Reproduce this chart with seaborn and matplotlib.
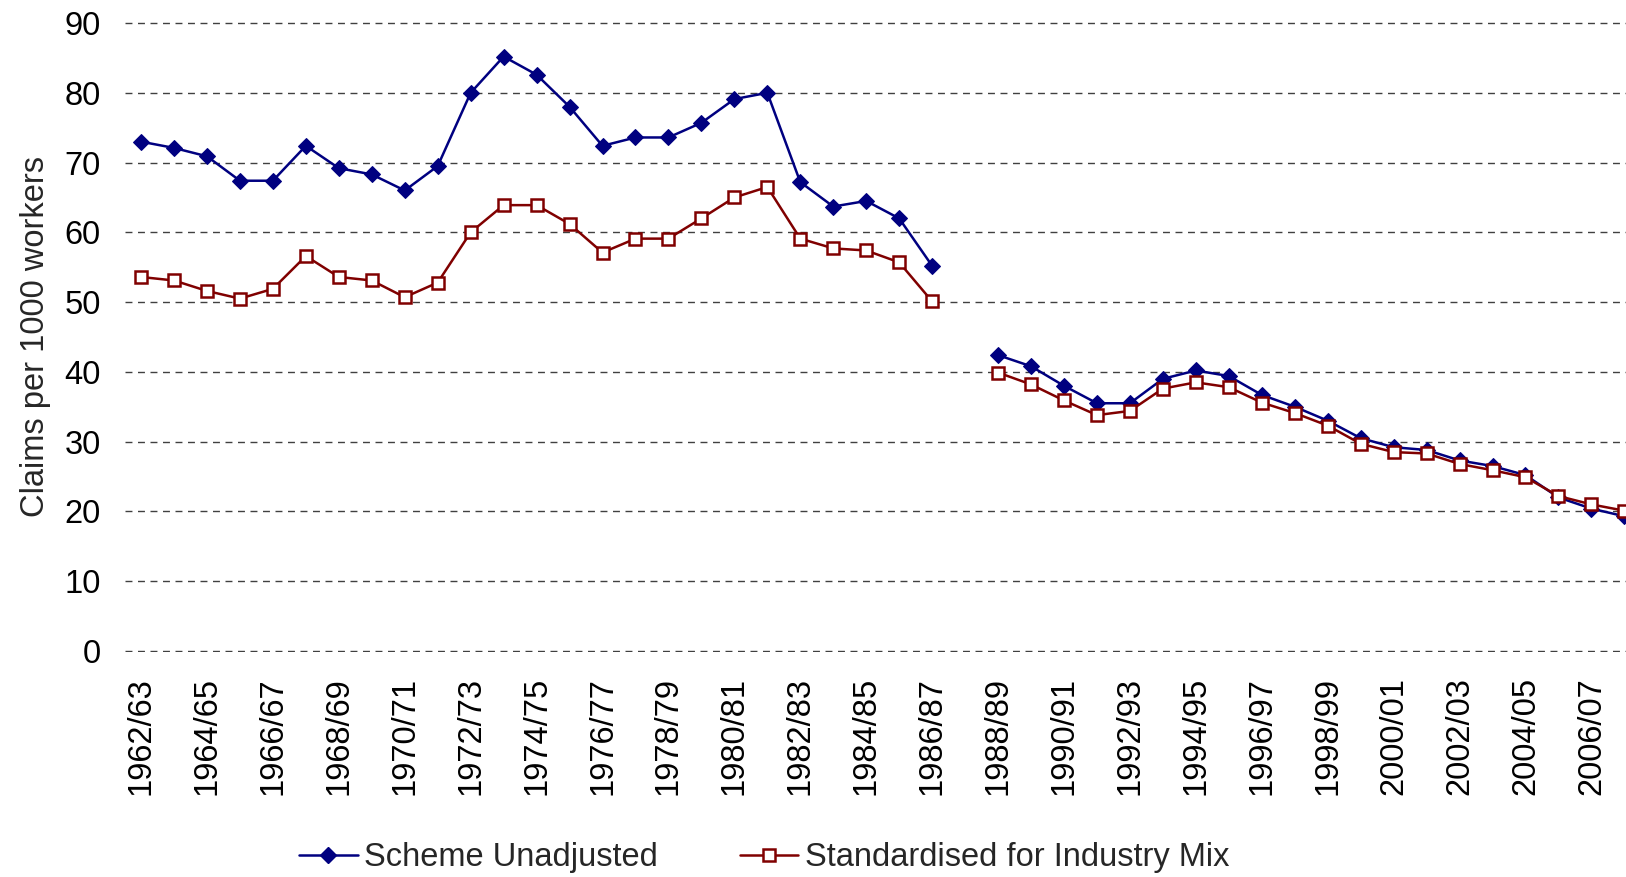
import numpy as np
import pandas as pd
import matplotlib
matplotlib.use("Agg")
import matplotlib.pyplot as plt
import seaborn as sns
from matplotlib.lines import Line2D

# financial years 1962/63 .. 2007/08
periods = [f"{y}/{str(y + 1)[-2:]}" for y in range(1962, 2008)]

# 1987/88 has no value (break in series)
unadjusted = [73.0, 72.1, 70.9, 67.4, 67.4, 72.4, 69.2, 68.3, 66.0, 69.5,
              80.0, 85.2, 82.6, 78.0, 72.4, 73.6, 73.6, 75.7, 79.1, 80.0,
              67.2, 63.7, 64.5, 62.0, 55.2, None,
              42.4, 40.8, 38.0, 35.5, 35.5, 39.0, 40.2, 39.4, 36.7, 35.0,
              33.0, 30.5, 29.2, 28.8, 27.3, 26.5, 25.2, 22.0, 20.4, 19.3]

standardised = [53.6, 53.1, 51.6, 50.5, 51.9, 56.6, 53.6, 53.1, 50.7, 52.8,
                60.0, 63.9, 63.9, 61.2, 57.1, 59.1, 59.1, 62.0, 65.0, 66.5,
                59.1, 57.7, 57.4, 55.7, 50.1, None,
                39.9, 38.2, 35.9, 33.8, 34.4, 37.6, 38.5, 37.8, 35.6, 34.1,
                32.3, 29.7, 28.5, 28.3, 26.8, 25.9, 24.9, 22.2, 21.0, 20.1]

series_names = ["Scheme Unadjusted", "Standardised for Industry Mix"]

rows = []
for name, vals in zip(series_names, [unadjusted, standardised]):
    seg = 0
    for i, v in enumerate(vals):
        if v is None:
            seg += 1
            continue
        rows.append({"idx": i, "value": v, "series": name, "segment": seg})
df = pd.DataFrame(rows)

sns.set_style("white")
plt.rcParams["font.family"] = ["Liberation Sans", "DejaVu Sans"]
FS = 23.5

fig = plt.figure(figsize=(16.26, 8.77), dpi=100)
ax = fig.add_axes([0.0766, 0.2566, 0.9234, 0.7183])

blue = "#000080"
red = "#800000"

sns.lineplot(data=df[df.series == series_names[0]], x="idx", y="value",
             units="segment", estimator=None, ax=ax, color=blue, lw=1.8,
             marker="D", markersize=8.5, markerfacecolor=blue,
             markeredgecolor=blue, zorder=3)
sns.lineplot(data=df[df.series == series_names[1]], x="idx", y="value",
             units="segment", estimator=None, ax=ax, color=red, lw=1.8,
             marker="s", markersize=8.5, markerfacecolor="white",
             markeredgecolor=red, markeredgewidth=1.8, zorder=3)

ax.set_ylim(-0.15, 90.15)
ax.set_xlim(-0.5, 45.05)
ax.set_yticks(range(0, 91, 10))
ax.set_xticks(range(0, 46, 2))
ax.set_xticklabels(periods[::2], rotation=90)
ax.tick_params(axis="both", length=0, labelsize=FS, colors="black")
ax.tick_params(axis="x", pad=18)
ax.tick_params(axis="y", pad=17)
ax.yaxis.grid(True, linestyle=(0, (5, 4)), color="#404040", lw=1.0)
ax.xaxis.grid(False)
for s in ax.spines.values():
    s.set_visible(False)

ax.set_xlabel("")
ax.set_ylabel("Claims per 1000 workers", fontsize=FS, labelpad=10)

handles = [
    Line2D([], [], color=blue, lw=1.8, marker="D", markersize=8.5),
    Line2D([], [], color=red, lw=1.8, marker="s", markersize=8.5,
           markerfacecolor="white", markeredgecolor=red, markeredgewidth=1.8),
]
fig.legend(handles, series_names, loc="center", bbox_to_anchor=(0.47, 0.022),
           ncol=2, frameon=False, fontsize=FS, handlelength=1.8,
           handletextpad=0.2, columnspacing=2.5)

fig.savefig("out.png", dpi=100)
